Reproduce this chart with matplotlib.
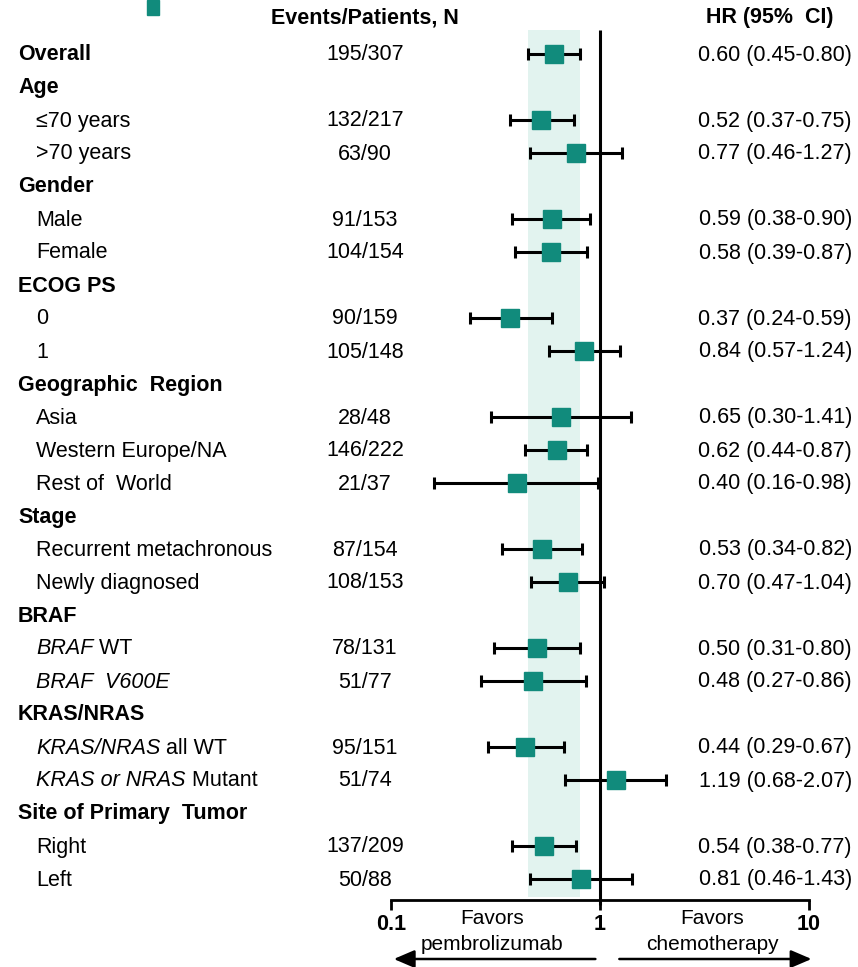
import matplotlib.pyplot as plt
from matplotlib import transforms
from matplotlib.patches import Rectangle

plt.rcParams['font.family'] = ['Liberation Sans', 'DejaVu Sans']

TEAL = "#118b7c"
BAND = "#e2f3ef"

# rows: label pieces (text, italic), is group header, events/patients, HR, lower CI, upper CI
labels = [[("Overall", False)], [("Age", False)], [("\u226470 years", False)],
          [(">70 years", False)], [("Gender", False)], [("Male", False)],
          [("Female", False)], [("ECOG PS", False)], [("0", False)], [("1", False)],
          [("Geographic  Region", False)], [("Asia", False)],
          [("Western Europe/NA", False)], [("Rest of  World", False)],
          [("Stage", False)], [("Recurrent metachronous", False)],
          [("Newly diagnosed", False)], [("BRAF", False)],
          [("BRAF", True), (" WT", False)], [("BRAF  V600E", True)],
          [("KRAS/NRAS", False)], [("KRAS/NRAS", True), (" all WT", False)],
          [("KRAS or NRAS", True), (" Mutant", False)],
          [("Site of Primary  Tumor", False)], [("Right", False)], [("Left", False)]]
is_header = [True, True, False, False, True, False, False,
             True, False, False, True, False, False,
             False, True, False, False,
             True, False, False, True,
             False, False,
             True, False, False]
events = ["195/307", "", "132/217", "63/90", "", "91/153", "104/154",
          "", "90/159", "105/148", "", "28/48", "146/222",
          "21/37", "", "87/154", "108/153",
          "", "78/131", "51/77", "",
          "95/151", "51/74",
          "", "137/209", "50/88"]
hr = [0.60, None, 0.52, 0.77, None, 0.59, 0.58,
      None, 0.37, 0.84, None, 0.65, 0.62,
      0.40, None, 0.53, 0.70,
      None, 0.50, 0.48, None,
      0.44, 1.19,
      None, 0.54, 0.81]
lo = [0.45, None, 0.37, 0.46, None, 0.38, 0.39,
      None, 0.24, 0.57, None, 0.30, 0.44,
      0.16, None, 0.34, 0.47,
      None, 0.31, 0.27, None,
      0.29, 0.68,
      None, 0.38, 0.46]
hi = [0.80, None, 0.75, 1.27, None, 0.90, 0.87,
      None, 0.59, 1.24, None, 1.41, 0.87,
      0.98, None, 0.82, 1.04,
      None, 0.80, 0.86, None,
      0.67, 2.07,
      None, 0.77, 1.43]

W, H = 858, 967
fig = plt.figure(figsize=(W / 100, H / 100), dpi=100)
ax = fig.add_axes([391 / W, 0, (809 - 391) / W, 1])
ax.set_xscale('log')
ax.set_xlim(0.1, 10)
ax.set_ylim(H, 0)
ax.patch.set_alpha(0)
for s in ['left', 'right', 'top']:
    ax.spines[s].set_visible(False)
ax.spines['bottom'].set_position(('data', 900))
ax.spines['bottom'].set_linewidth(2)
ax.set_yticks([])
ax.set_xticks([0.1, 1, 10])
ax.set_xticklabels(['0.1', '1', '10'], fontweight='bold', fontsize=15.5)
ax.minorticks_off()
ax.tick_params(axis='x', direction='out', length=7, width=2, pad=3)

# overall CI band and line of no effect
ax.fill_betweenx([30, 897], lo[0], hi[0], color=BAND, lw=0, zorder=0)
ax.vlines(1, 30, 905, color='black', lw=2.2, zorder=1)

tr = transforms.blended_transform_factory(fig.transFigure, ax.transData)
renderer = fig.canvas.get_renderer()
fs = 15.5

for i, pieces in enumerate(labels):
    y = 54 + 33 * i
    x = 18 if is_header[i] else 36
    for txt, ital in pieces:
        t = fig.text(x / W, y + 1, txt, transform=tr, ha='left', va='center', fontsize=fs,
                     fontweight='bold' if is_header[i] else 'normal',
                     fontstyle='italic' if ital else 'normal')
        x += t.get_window_extent(renderer).width
    if events[i]:
        fig.text(365 / W, y + 1, events[i], transform=tr, ha='center', va='center',
                 fontsize=fs)
    if hr[i] is not None:
        ax.errorbar(hr[i], y, xerr=[[hr[i] - lo[i]], [hi[i] - hr[i]]], fmt='none',
                    ecolor='black', elinewidth=2.2, capsize=4.3, capthick=2.2, zorder=2)
        ax.plot(hr[i], y, marker='s', ms=12.5, color=TEAL, mec=TEAL, zorder=3)
        fig.text(852 / W, y + 1, f"{hr[i]:.2f} ({lo[i]:.2f}-{hi[i]:.2f})", transform=tr,
                 ha='right', va='center', fontsize=fs)

fig.text(365 / W, 18, "Events/Patients, N", transform=tr, ha='center', va='center',
         fontsize=fs, fontweight='bold')
fig.text(770 / W, 18, "HR (95%  CI)", transform=tr, ha='center', va='center',
         fontsize=fs, fontweight='bold')

# favors labels and arrows
fs2 = 15
fig.text(492 / W, 918, "Favors", transform=tr, ha='center', va='center', fontsize=fs2)
fig.text(492 / W, 944, "pembrolizumab", transform=tr, ha='center', va='center', fontsize=fs2)
fig.text(712 / W, 918, "Favors", transform=tr, ha='center', va='center', fontsize=fs2)
fig.text(712 / W, 944, "chemotherapy", transform=tr, ha='center', va='center', fontsize=fs2)
ax.annotate("", xy=(0.1, 959), xytext=(0.98, 959),
            arrowprops=dict(arrowstyle='-|>,head_length=0.7,head_width=0.3',
                            color='black', lw=1.8, mutation_scale=18),
            annotation_clip=False)
ax.annotate("", xy=(10.6, 959), xytext=(1.2, 959),
            arrowprops=dict(arrowstyle='-|>,head_length=0.7,head_width=0.3',
                            color='black', lw=1.8, mutation_scale=18),
            annotation_clip=False)

# clipped legend fragment at the top
fig.patches.append(Rectangle((147 / W, 1 - 15 / H), 12 / W, 15 / H,
                             transform=fig.transFigure, color=TEAL))

fig.savefig("out.png", dpi=100)
